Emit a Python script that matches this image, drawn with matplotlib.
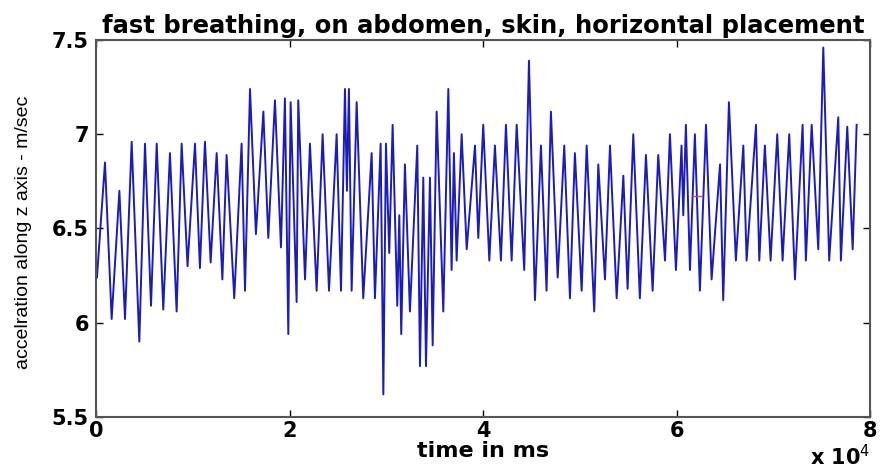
import matplotlib
matplotlib.use("Agg")
import matplotlib.pyplot as plt

# peaks / troughs (time in ms, acceleration)
time_ms = [
    50, 880, 1570, 2370, 2950, 3640, 4430, 5020, 5640, 6230, 6910, 7600, 8290, 8810,
    9420, 10190, 10700, 11220, 11810, 12430, 13020, 13460,
    14250, 15010, 15360, 15880, 16490, 17260, 17770, 18460, 19080, 19490, 19840,
    20080, 20700, 20870, 21570, 22080, 22770, 23390, 24050, 24840, 25290, 25700,
    25900, 26110, 26390, 26910, 27590,
    28460, 28800, 29390, 29670, 29940, 30280, 30630, 31110, 31320, 31520, 31900,
    32420, 33180, 33460, 33800, 34080, 34490, 34770, 35180, 35870, 36390, 36730,
    36970, 37250, 37770, 38290, 39150, 39490, 40000, 40630, 41210,
    41830, 42350, 42940, 43460, 44240, 44730, 45350, 45970, 46550, 47000, 47700,
    48380, 48970, 49480, 50180, 50700, 51480, 51900, 52590, 53110, 53800, 54490,
    54930, 55520,
    56200, 56830, 57520, 58100, 58800, 59310, 59930, 60510, 60690, 60960, 61380,
    61890, 62410, 63040, 63620, 64490, 64820, 65410, 66130, 66900, 67240, 68210,
    68550, 69130,
    69720, 70410, 70960, 71650, 72240, 73030, 73370, 73970, 74650, 75170, 75780,
    76720, 76990, 77650, 78210, 78620,
]
accel = [
    6.24, 6.85, 6.02, 6.70, 6.02, 6.96, 5.90, 6.95, 6.09, 6.95, 6.07, 6.90, 6.06, 6.95,
    6.30, 6.95, 6.29, 6.96, 6.32, 6.90, 6.23, 6.89,
    6.13, 6.95, 6.17, 7.24, 6.47, 7.12, 6.45, 7.18, 6.40, 7.19, 5.94,
    7.17, 6.11, 7.18, 6.23, 6.95, 6.17, 7.00, 6.17, 7.00, 6.17, 7.24,
    6.70, 7.24, 6.17, 7.17, 6.13,
    6.90, 6.13, 6.95, 5.62, 6.95, 6.37, 7.05, 6.09, 6.57, 5.94, 6.84,
    6.06, 6.94, 5.77, 6.77, 5.77, 6.77, 5.88, 7.12, 6.06, 7.24, 6.28,
    6.90, 6.33, 7.00, 6.39, 6.94, 6.45, 7.05, 6.33, 6.94,
    6.33, 7.05, 6.33, 7.05, 6.28, 7.39, 6.12, 6.94, 6.17, 7.12, 6.24,
    6.94, 6.13, 6.90, 6.17, 6.94, 6.06, 6.84, 6.23, 6.94, 6.13, 6.78,
    6.18, 7.00,
    6.13, 6.89, 6.17, 6.89, 6.33, 7.00, 6.28, 6.94, 6.57, 7.05, 6.28,
    7.00, 6.17, 7.05, 6.23, 6.84, 6.12, 7.17, 6.33, 6.94, 6.33, 7.05,
    6.33, 6.94,
    6.33, 7.00, 6.33, 7.00, 6.23, 7.05, 6.33, 7.05, 6.39, 7.46, 6.33,
    7.09, 6.33, 7.04, 6.39, 7.05,
]
marker_t = [62100]
marker_v = [6.67]

x_ticks = [0, 20000, 40000, 60000, 80000]
x_tick_labels = ["0", "2", "4", "6", "8"]
y_ticks = [5.5, 6, 6.5, 7, 7.5]
y_tick_labels = ["5.5", "6", "6.5", "7", "7.5"]

plt.rcParams["font.family"] = ["DejaVu Sans"]

fig = plt.figure(figsize=(8.81, 4.72), dpi=100)
ax = fig.add_axes([0.1095, 0.1165, 0.878, 0.7988])

ax.plot(time_ms, accel, color="#1c1cb8", linewidth=1.4)
ax.plot(marker_t, marker_v, marker="_", color="#e0405a", markersize=7, linestyle="none")

ax.set_xlim(0, 80000)
ax.set_ylim(5.5, 7.5)
ax.set_xticks(x_ticks)
ax.set_xticklabels(x_tick_labels, fontweight="bold", fontsize=15)
ax.set_yticks(y_ticks)
ax.set_yticklabels(y_tick_labels, fontweight="bold", fontsize=15)
ax.tick_params(direction="in", top=True, right=True, length=5, width=1)
ax.tick_params(axis="x", pad=3)
ax.tick_params(axis="y", pad=5.5)

for sp in ax.spines.values():
    sp.set_color("#555555")
    sp.set_linewidth(1.5)

ax.set_title("fast breathing, on abdomen, skin, horizontal placement",
             fontweight="bold", fontsize=17.5, pad=5)
ax.set_xlabel("time in ms", fontweight="bold", fontsize=16, labelpad=0)
ax.set_ylabel("accelration along z axis - m/sec", fontsize=14,
              family=["Liberation Sans", "DejaVu Sans"])
ax.yaxis.set_label_coords(-0.083, 0.49)
fig.text(0.9875, 0.006, r"x 10$^4$", fontweight="bold", fontsize=15,
         ha="right", va="bottom")

fig.savefig("out.png", dpi=100, facecolor="white")
